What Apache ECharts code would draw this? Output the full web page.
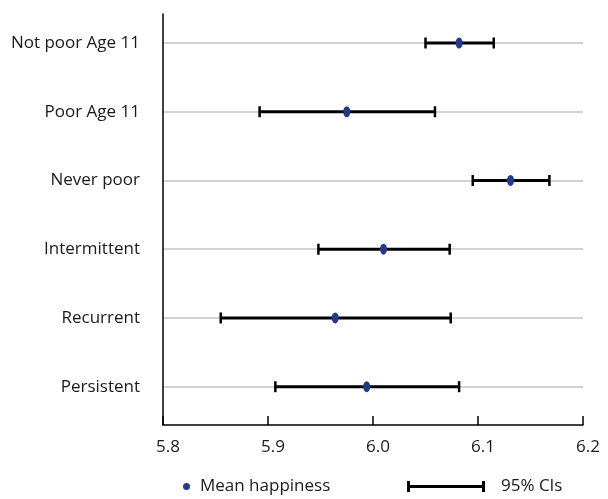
<!DOCTYPE html>
<html>
<head>
<meta charset="utf-8">
<script src="https://cdn.jsdelivr.net/npm/echarts@6/dist/echarts.min.js"></script>
<style>
  html, body { margin: 0; padding: 0; background: #fff; }
  #chart { width: 608px; height: 499px; }
</style>
</head>
<body>
<div id="chart"></div>
<script>
// Groups shown top to bottom
const categories = ['Not poor Age 11', 'Poor Age 11', 'Never poor', 'Intermittent', 'Recurrent', 'Persistent'];
// Mean happiness per group and its 95% confidence interval
const meanHappiness = [6.082, 5.975, 6.131, 6.010, 5.964, 5.994];
const ciLower = [6.050, 5.892, 6.095, 5.948, 5.855, 5.907];
const ciUpper = [6.115, 6.059, 6.168, 6.073, 6.074, 6.082];
// Horizontal scale
const xMin = 5.8;
const xMax = 6.2;
const xStep = 0.1;

const FONT = 'Open Sans';
const TEXT = '#1a1a1a';

const chart = echarts.init(document.getElementById('chart'), null, { renderer: 'canvas' });

const ciData = categories.map((c, i) => [i, ciLower[i], ciUpper[i]]);
const meanData = categories.map((c, i) => [meanHappiness[i], i]);

function renderCI(params, api) {
  const idx = api.value(0);
  const lo = api.coord([api.value(1), idx]);
  const hi = api.coord([api.value(2), idx]);
  const half = 5.5;
  const style = { stroke: '#000', lineWidth: 3 };
  const capStyle = { stroke: '#000', lineWidth: 2.5 };
  return {
    type: 'group',
    children: [
      { type: 'line', shape: { x1: lo[0], y1: lo[1], x2: hi[0], y2: hi[1] }, style: style },
      { type: 'line', shape: { x1: lo[0], y1: lo[1] - half, x2: lo[0], y2: lo[1] + half }, style: capStyle },
      { type: 'line', shape: { x1: hi[0], y1: hi[1] - half, x2: hi[0], y2: hi[1] + half }, style: capStyle }
    ]
  };
}

const option = {
  animation: false,
  backgroundColor: '#fff',
  textStyle: { fontFamily: FONT, color: TEXT },
  grid: [
    // plotting grid: categories sit on the grid edges
    { left: 163, right: 25, top: 43, bottom: 112.3 },
    // frame grid carrying the axis lines and value labels
    { left: 163, right: 25, top: 14, bottom: 74 }
  ],
  xAxis: [
    {
      gridIndex: 0, type: 'value', min: xMin, max: xMax, interval: xStep,
      show: false
    },
    {
      gridIndex: 1, type: 'value', min: xMin, max: xMax, interval: xStep,
      axisLine: { show: true, onZero: false, lineStyle: { color: '#000', width: 1.5 } },
      axisTick: { show: true, inside: true, length: 9, lineStyle: { color: '#000', width: 1.5 } },
      splitLine: { show: false },
      axisLabel: {
        fontFamily: FONT, fontSize: 17, color: TEXT, margin: 14,
        padding: [0, 0, 0, 10],
        formatter: v => v.toFixed(1)
      }
    }
  ],
  yAxis: [
    {
      gridIndex: 0, type: 'category', data: categories, inverse: true, boundaryGap: false,
      axisLine: { show: false },
      axisTick: { show: false },
      splitLine: { show: true, lineStyle: { color: '#c4c4c4', width: 1.5 } },
      axisLabel: { fontFamily: FONT, fontSize: 17, color: TEXT, margin: 23 }
    },
    {
      gridIndex: 1, type: 'value', min: 0, max: 1,
      axisLine: { show: true, onZero: false, lineStyle: { color: '#000', width: 1.5 } },
      axisTick: { show: false },
      axisLabel: { show: false },
      splitLine: { show: false }
    }
  ],
  legend: [
    {
      data: [{ name: 'Mean happiness', icon: 'circle' }],
      left: 183, top: 478, padding: 0,
      itemWidth: 7, itemHeight: 11,
      textStyle: { fontFamily: FONT, fontSize: 17, color: TEXT, padding: [0, 0, 0, 5] },
      selectedMode: false
    },
    {
      data: [{ name: '95% CIs', icon: 'path://M0,0 L3,0 L3,4 L75,4 L75,0 L78,0 L78,11 L75,11 L75,7 L3,7 L3,11 L0,11 Z' }],
      left: 407, top: 478, padding: 0,
      itemWidth: 78, itemHeight: 11,
      textStyle: { fontFamily: FONT, fontSize: 17, color: TEXT, padding: [0, 0, 0, 11] },
      selectedMode: false
    }
  ],
  series: [
    {
      name: '95% CIs', type: 'custom', xAxisIndex: 0, yAxisIndex: 0,
      itemStyle: { color: '#000' },
      encode: { x: [1, 2], y: 0 },
      renderItem: renderCI,
      data: ciData,
      z: 2
    },
    {
      name: 'Mean happiness', type: 'scatter', xAxisIndex: 0, yAxisIndex: 0,
      symbol: 'circle', symbolSize: [7, 11],
      itemStyle: { color: '#25398c', opacity: 1 },
      data: meanData,
      z: 3
    }
  ]
};

chart.setOption(option);
</script>
</body>
</html>
